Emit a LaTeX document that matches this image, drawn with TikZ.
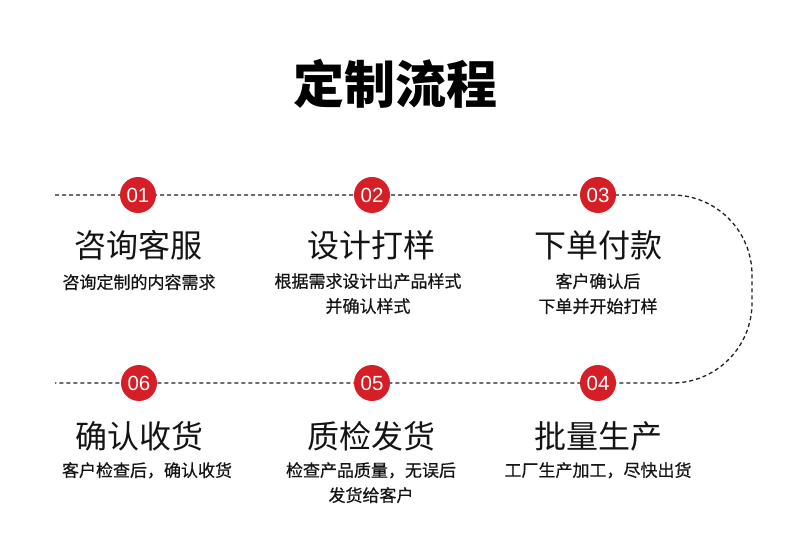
\documentclass[tikz,border=0pt]{standalone}
\usepackage{fontspec}
\setmainfont{Liberation Sans}
\newfontfamily\cjk{Noto Sans CJK SC}
\newfontfamily\cjksub[FakeBold=0.6]{Noto Sans CJK SC}
\definecolor{stepred}{RGB}{214,30,38}
\definecolor{ink}{RGB}{20,20,20}
\tikzset{
  numdot/.style={circle,fill=stepred,minimum size=36pt,inner sep=0pt,text=white,font=\fontsize{20.5}{20}\selectfont},
  headtxt/.style={text=ink,font=\cjk\fontsize{32}{32}\selectfont,inner sep=0pt},
  subtxt/.style={text=ink,font=\cjksub\fontsize{17}{25}\selectfont,align=center,inner sep=0pt},
  flowline/.style={draw=ink!95,line width=1.3pt,dash pattern=on 4pt off 3pt}
}
\begin{document}
\begin{tikzpicture}[x=1pt,y=-1pt]
\useasboundingbox (0,0) rectangle (790,537);
\fill[white] (0,0) rectangle (790,537);
% title
\node[text=black,font=\cjk\bfseries\fontsize{51}{51}\selectfont,inner sep=0pt] (title) at (395,84) {定制流程};
% dashed flow line
\coordinate (topstart) at (55,195);
\coordinate (botend) at (55,383);
\draw[flowline,rounded corners=80pt] (topstart) -- (752,195) -- (752,383) -- (botend);
% circles
\node[numdot] (n1) at (138,195) {01};
\node[numdot] (n2) at (372,195) {02};
\node[numdot] (n3) at (598,195) {03};
\node[numdot] (n4) at (598,383) {04};
\node[numdot] (n5) at (372,383) {05};
\node[numdot] (n6) at (139,383) {06};
% headings
\node[headtxt] (h1) at (138,245) {咨询客服};
\node[headtxt] (h2) at (371,245) {设计打样};
\node[headtxt] (h3) at (598,245) {下单付款};
\node[headtxt] (h4) at (598,436) {批量生产};
\node[headtxt] (h5) at (371,436) {质检发货};
\node[headtxt] (h6) at (139,436) {确认收货};
% sub texts
\node[subtxt,anchor=north] (s1) at (139,274) {咨询定制的内容需求};
\node[subtxt,anchor=north] (s2) at (368,273) {根据需求设计出产品样式\\并确认样式};
\node[subtxt,anchor=north] (s3) at (598,273) {客户确认后\\下单并开始打样};
\node[subtxt,anchor=north] (s4) at (598,462) {工厂生产加工，尽快出货};
\node[subtxt,anchor=north] (s5) at (371,462) {检查产品质量，无误后\\发货给客户};
\node[subtxt,anchor=north] (s6) at (147,462) {客户检查后，确认收货};
\end{tikzpicture}
\end{document}
